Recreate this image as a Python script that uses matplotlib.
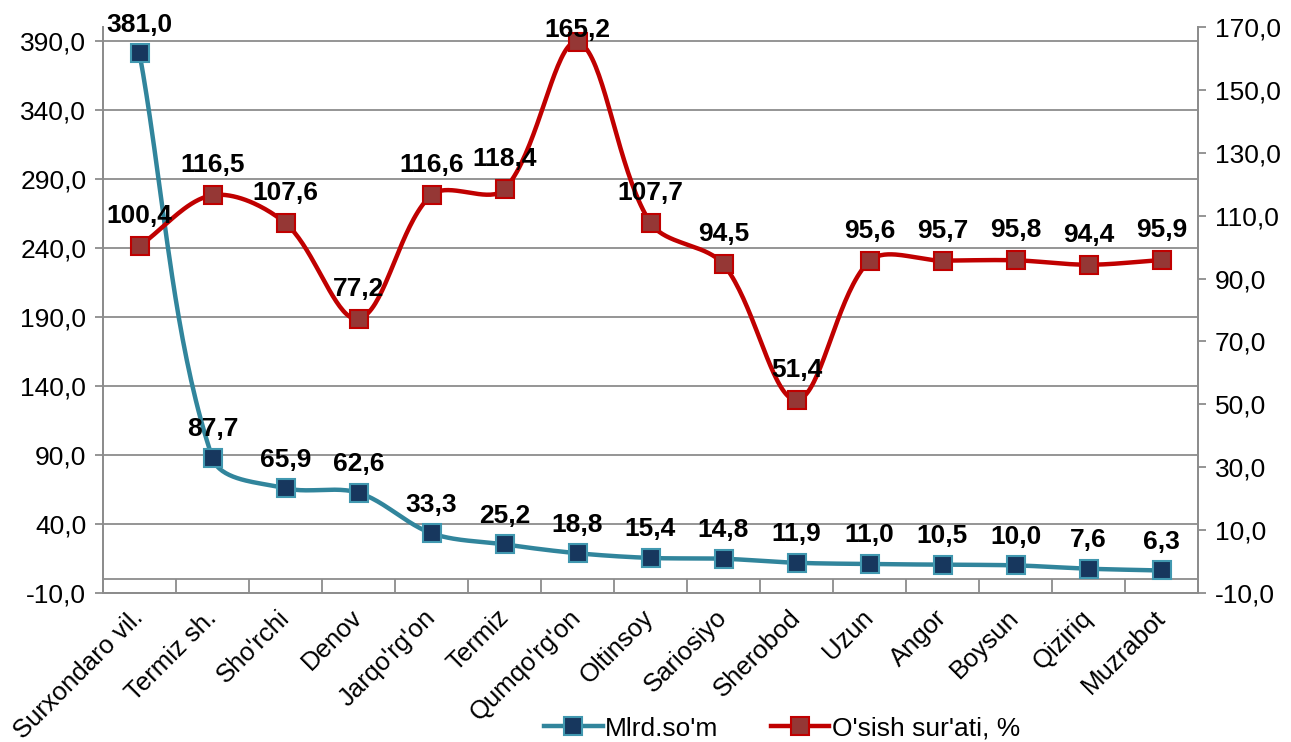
"""
Surxondaryo: Mlrd.so'm va o'sish sur'ati, dual-axis smoothed line chart.
"""
import numpy as np
import matplotlib
matplotlib.use('Agg')
import matplotlib.pyplot as plt
from matplotlib.lines import Line2D

plt.rcParams['font.family'] = ['Liberation Sans', 'DejaVu Sans']

# Data
districts = ['Surxondaro vil.', 'Termiz sh.', "Sho'rchi", 'Denov', "Jarqo'rg'on",
             'Termiz', "Qumqo'rg'on", 'Oltinsoy', 'Sariosiyo', 'Sherobod',
             'Uzun', 'Angor', 'Boysun', 'Qiziriq', 'Muzrabot']
mlrd_som = [381.0, 87.7, 65.9, 62.6, 33.3, 25.2, 18.8, 15.4, 14.8, 11.9,
            11.0, 10.5, 10.0, 7.6, 6.3]
osish = [100.4, 116.5, 107.6, 77.2, 116.6, 118.4, 165.2, 107.7, 94.5, 51.4,
         95.6, 95.7, 95.8, 94.4, 95.9]

left_ticks = np.arange(-10, 391, 50)
right_ticks = np.arange(-10, 171, 20)

blue_line = '#31859C'
blue_face = '#17375E'
blue_edge = '#4198B0'
red_line = '#C00000'
red_face = '#953735'
grid_col = '#8C8C8C'
FS = 19


def fmt(v):
    return ('%.1f' % v).replace('.', ',')


def smooth(a, xs, ys, n=40):
    # Excel-like smoothing: Bezier in screen space, tangents weighted by segment length
    pts = a.transData.transform(np.column_stack([xs, ys]))
    P = np.vstack([pts[0], pts, pts[-1]])
    t = np.linspace(0, 1, n)[:, None]
    segs = []
    for i in range(len(pts) - 1):
        p0, p1, p2, p3 = P[i], P[i + 1], P[i + 2], P[i + 3]
        d01 = np.hypot(*(p1 - p0))
        d12 = np.hypot(*(p2 - p1))
        d23 = np.hypot(*(p3 - p2))
        c1 = p1 + (p2 - p0) * d12 / max(d01 + d12, 1e-9) / 3
        c2 = p2 - (p3 - p1) * d12 / max(d12 + d23, 1e-9) / 3
        segs.append((1 - t) ** 3 * p1 + 3 * (1 - t) ** 2 * t * c1
                    + 3 * (1 - t) * t ** 2 * c2 + t ** 3 * p2)
    curve = a.transData.inverted().transform(np.vstack(segs))
    return curve[:, 0], curve[:, 1]


x = np.arange(len(districts))

fig = plt.figure(figsize=(12.91, 7.42), dpi=100)
ax = fig.add_axes([103 / 1291, 1 - 593 / 742, (1198 - 103) / 1291, (593 - 27) / 742])
ax2 = ax.twinx()

ax.set_xlim(-0.5, len(districts) - 0.5)
ax.set_ylim(-10, 400)
ax2.set_ylim(-10, 170)

# grid on the left axis
ax.set_yticks(left_ticks)
ax.set_yticklabels([fmt(v) for v in left_ticks], fontsize=FS)
ax.yaxis.grid(True, color=grid_col, lw=1.3)
ax.set_axisbelow(True)
ax.axhline(0, color=grid_col, lw=1.3, zorder=1)

ax2.set_yticks(right_ticks)
ax2.set_yticklabels([fmt(v) for v in right_ticks], fontsize=FS)

for a in (ax, ax2):
    a.spines['top'].set_visible(False)
    for s in ('left', 'right', 'bottom'):
        a.spines[s].set_color(grid_col)
        a.spines[s].set_linewidth(1.3)
    a.tick_params(axis='y', length=6, width=1.3, color=grid_col, pad=6)

ax.set_xticks(x)
ax.set_xticklabels(districts, fontsize=18.5, rotation=45, ha='right',
                   va='center', rotation_mode='anchor')
ax.tick_params(axis='x', which='major', length=0, pad=15)
ax.set_xticks(np.arange(-0.5, len(districts), 1), minor=True)
ax.tick_params(axis='x', which='minor', direction='in', length=10,
               width=1.3, color=grid_col)

# Mlrd.so'm series (left axis)
sx, sy = smooth(ax, x, mlrd_som)
ax.plot(sx, sy, color=blue_line, lw=3.2, zorder=3, solid_capstyle='round')
ax.plot(x, mlrd_som, ls='none', marker='s', ms=12.5, mfc=blue_face,
        mec=blue_edge, mew=1.5, zorder=4)

# O'sish sur'ati series (right axis)
rx, ry = smooth(ax2, x, osish)
ax2.plot(rx, ry, color=red_line, lw=3.2, zorder=3, solid_capstyle='round')
ax2.plot(x, osish, ls='none', marker='s', ms=12.5, mfc=red_face,
         mec=red_line, mew=1.5, zorder=4)

for xi, v in zip(x, mlrd_som):
    ax.annotate(fmt(v), xy=(xi, v), xytext=(0, 12),
                textcoords='offset points', ha='center', va='bottom',
                fontsize=FS, fontweight='bold', zorder=6,
                annotation_clip=False)
for xi, v in zip(x, osish):
    # the top label is pushed down onto its marker to stay inside the chart
    if v > 160:
        off, va = 3.6, 'baseline'
    else:
        off, va = 13, 'bottom'
    ax2.annotate(fmt(v), xy=(xi, v), xytext=(0, off),
                 textcoords='offset points', ha='center', va=va,
                 fontsize=FS, fontweight='bold', zorder=6,
                 annotation_clip=False)

handles = [
    Line2D([], [], color=blue_line, lw=3.2, marker='s', ms=12.5,
           mfc=blue_face, mec=blue_edge, mew=1.5),
    Line2D([], [], color=red_line, lw=3.2, marker='s', ms=12.5,
           mfc=red_face, mec=red_line, mew=1.5),
]
fig.legend(handles, ["Mlrd.so'm", "O'sish sur'ati, %"], loc='lower center',
           bbox_to_anchor=(0.606, -0.03), ncol=2, frameon=False, fontsize=FS,
           handlelength=2.2, handletextpad=0.1, columnspacing=2.0)

fig.savefig('out.png', dpi=100, facecolor='white')
